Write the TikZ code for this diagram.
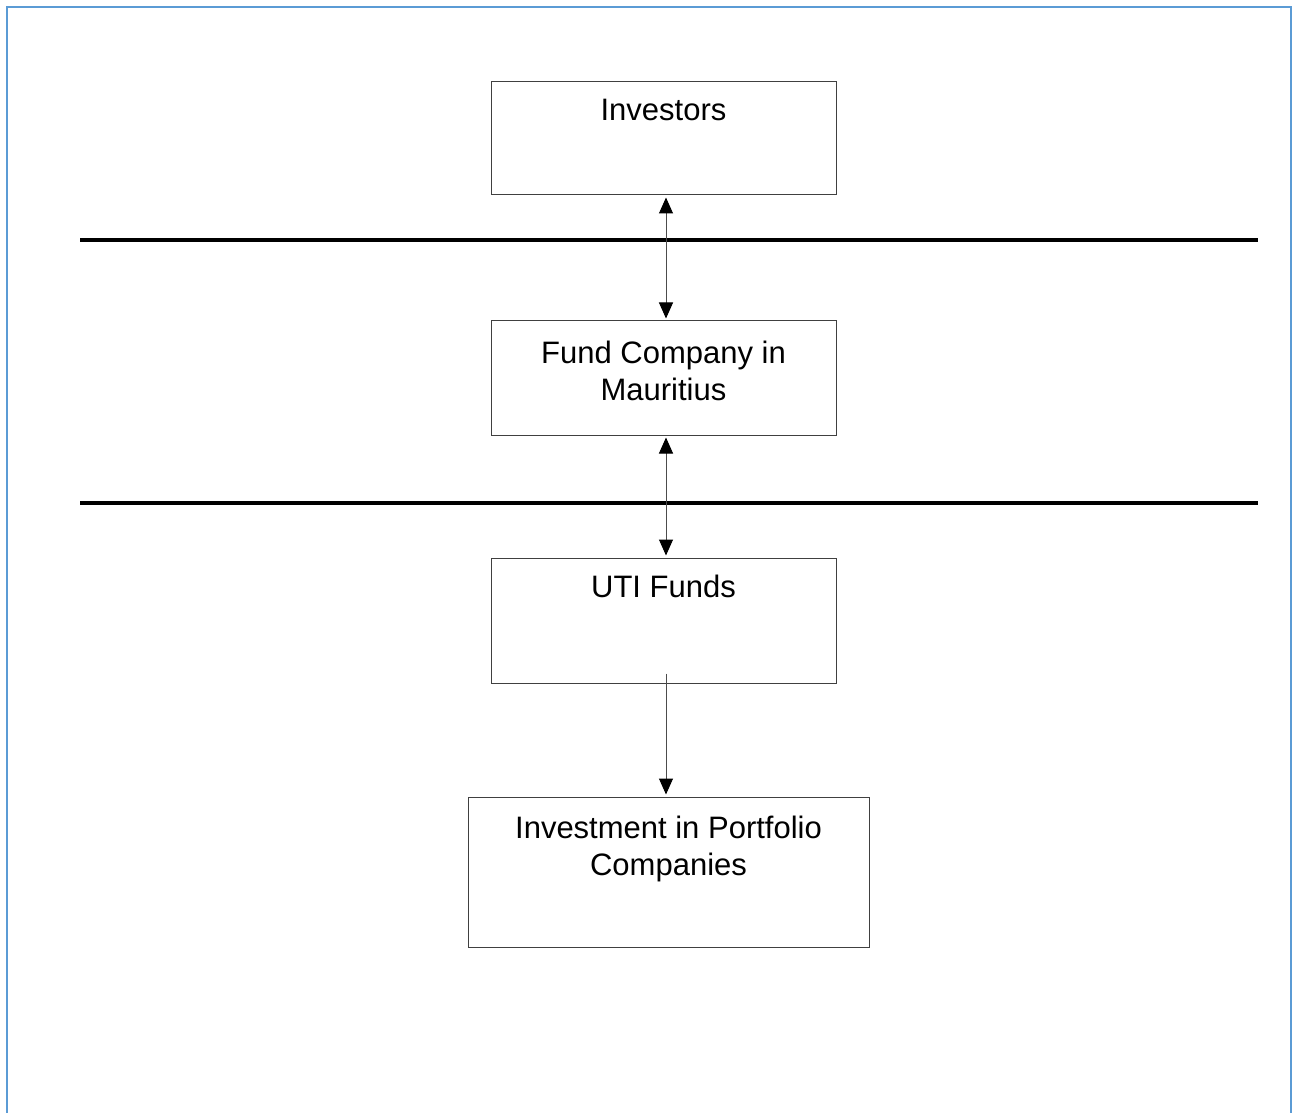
\documentclass[tikz,border=0pt]{standalone}
\usepackage{fontspec}
\setmainfont{Liberation Sans}
\usetikzlibrary{positioning,arrows.meta}
\definecolor{frameblue}{HTML}{5B9BD5}

\tikzset{
  box/.style={draw=black!75, line width=0.5pt, minimum width=172.5pt},
  boxtext/.style={inner sep=0pt, align=center, font=\fontsize{15.5}{18.5}\selectfont},
  tier/.style={line width=1.8pt, black},
  head/.tip={Triangle[width=7pt,length=8pt,color=black]},
  flow/.style={black!70, line width=0.5pt, -head},
  twoway/.style={black!70, line width=0.5pt, head-head},
}

\begin{document}
\begin{tikzpicture}[x=0.5pt, y=-0.5pt]
\useasboundingbox (0,0) rectangle (1298,1113);
\draw[frameblue, line width=1.1pt] (7,1130) -- (7,7) -- (1291,7) -- (1291,1130);

% boxes
\node[box, minimum height=56.5pt] (inv) at (663.5,138.5) {};
\node[box, minimum height=57pt] (fund) at (663.5,378) {};
\node[box, minimum height=62.5pt] (uti) at (663.5,620.5) {};
\node[box, minimum width=200.5pt, minimum height=75pt] (port) at (668.5,872) {};

\node[boxtext, below=8.6pt of inv.north] (invtxt) {Investors};
\node[boxtext, below=10pt of fund.north] (fundtxt) {Fund Company in\\Mauritius};
\node[boxtext, below=8.6pt of uti.north] (utitxt) {UTI Funds};
\node[boxtext, below=9.6pt of port.north] (porttxt) {Investment in Portfolio\\Companies};

% tier lines
\coordinate (t1w) at (80,240);
\coordinate (t1e) at (1258,240);
\coordinate (t2w) at (80,503);
\coordinate (t2e) at (1258,503);
\draw[tier] (t1w) -- (t1e);
\draw[tier] (t2w) -- (t2e);

% flows
\draw[twoway] ([xshift=1.25pt,yshift=-1pt]inv.south) -- ([xshift=1.25pt,yshift=1pt]fund.north);
\draw[twoway] ([xshift=1.25pt,yshift=-1pt]fund.south) -- ([xshift=1.25pt,yshift=1pt]uti.north);
\draw[flow] ([xshift=1.25pt,yshift=5pt]uti.south) -- ([xshift=-1.25pt,yshift=1pt]port.north);
\end{tikzpicture}
\end{document}
